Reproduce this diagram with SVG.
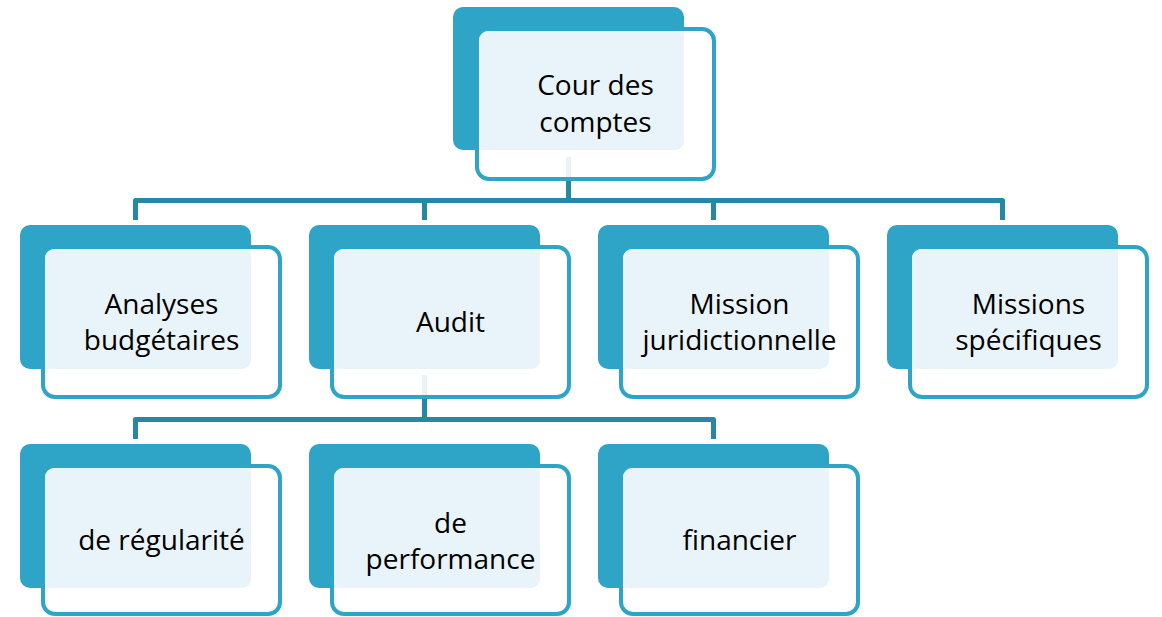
<svg xmlns="http://www.w3.org/2000/svg" width="1162" height="617" viewBox="0 0 1162 617">
<style>
.dk{fill:#2EA4C6}
.wt{fill:#FFFFFF;fill-opacity:0.9;stroke:#2EA4C6;stroke-width:4}
.lt{fill:#E8F4F9}
.cn{fill:none;stroke:#2688A4;stroke-width:5;stroke-linejoin:round}
text{font-family:"Open Sans","Noto Sans",sans-serif;font-size:28px;fill:#000;text-anchor:middle}
</style>
<rect width="1162" height="617" fill="#FFFFFF"/>
<g id="connectors">
<path class="cn" d="M568.5 157V200.5M135.5 220V200.5H1002.5V220M424.5 200.5V220M713.5 200.5V220"/>
<path class="cn" d="M424.5 375V419.5M135.5 439V419.5H713.5V439"/>
</g>
<g id="n-cour">
<rect class="dk" x="453" y="7" width="231" height="143" rx="10"/>
<rect class="wt" x="477" y="29" width="237" height="150" rx="12"/>
<rect class="lt" x="479" y="31" width="205" height="119" rx="9"/>
<text x="595.5" y="95">Cour des</text><text x="595.5" y="131.5">comptes</text>
</g>
<g id="n-analyses">
<rect class="dk" x="20" y="225" width="231" height="144" rx="10"/>
<rect class="wt" x="43" y="247" width="237" height="150" rx="12"/>
<rect class="lt" x="45" y="249" width="206" height="120" rx="9"/>
<text x="161.5" y="313.5">Analyses</text><text x="161.5" y="350">budgétaires</text>
</g>
<g id="n-audit">
<rect class="dk" x="309" y="225" width="231" height="144" rx="10"/>
<rect class="wt" x="332" y="247" width="237" height="150" rx="12"/>
<rect class="lt" x="334" y="249" width="206" height="120" rx="9"/>
<text x="450.5" y="332">Audit</text>
</g>
<g id="n-mission">
<rect class="dk" x="598" y="225" width="231" height="144" rx="10"/>
<rect class="wt" x="621" y="247" width="237" height="150" rx="12"/>
<rect class="lt" x="623" y="249" width="206" height="120" rx="9"/>
<text x="739.5" y="313.5">Mission</text><text x="739.5" y="350">juridictionnelle</text>
</g>
<g id="n-missions">
<rect class="dk" x="887" y="225" width="231" height="144" rx="10"/>
<rect class="wt" x="910" y="247" width="237" height="150" rx="12"/>
<rect class="lt" x="912" y="249" width="206" height="120" rx="9"/>
<text x="1028.5" y="313.5">Missions</text><text x="1028.5" y="350">spécifiques</text>
</g>
<g id="n-regularite">
<rect class="dk" x="20" y="444" width="231" height="144" rx="10"/>
<rect class="wt" x="43" y="466" width="237" height="148" rx="12"/>
<rect class="lt" x="45" y="468" width="206" height="120" rx="9"/>
<text x="161.5" y="550">de régularité</text>
</g>
<g id="n-performance">
<rect class="dk" x="309" y="444" width="231" height="144" rx="10"/>
<rect class="wt" x="332" y="466" width="237" height="148" rx="12"/>
<rect class="lt" x="334" y="468" width="206" height="120" rx="9"/>
<text x="450.5" y="532.5">de</text><text x="450.5" y="569">performance</text>
</g>
<g id="n-financier">
<rect class="dk" x="598" y="444" width="231" height="144" rx="10"/>
<rect class="wt" x="621" y="466" width="237" height="148" rx="12"/>
<rect class="lt" x="623" y="468" width="206" height="120" rx="9"/>
<text x="739.5" y="550">financier</text>
</g>
</svg>
